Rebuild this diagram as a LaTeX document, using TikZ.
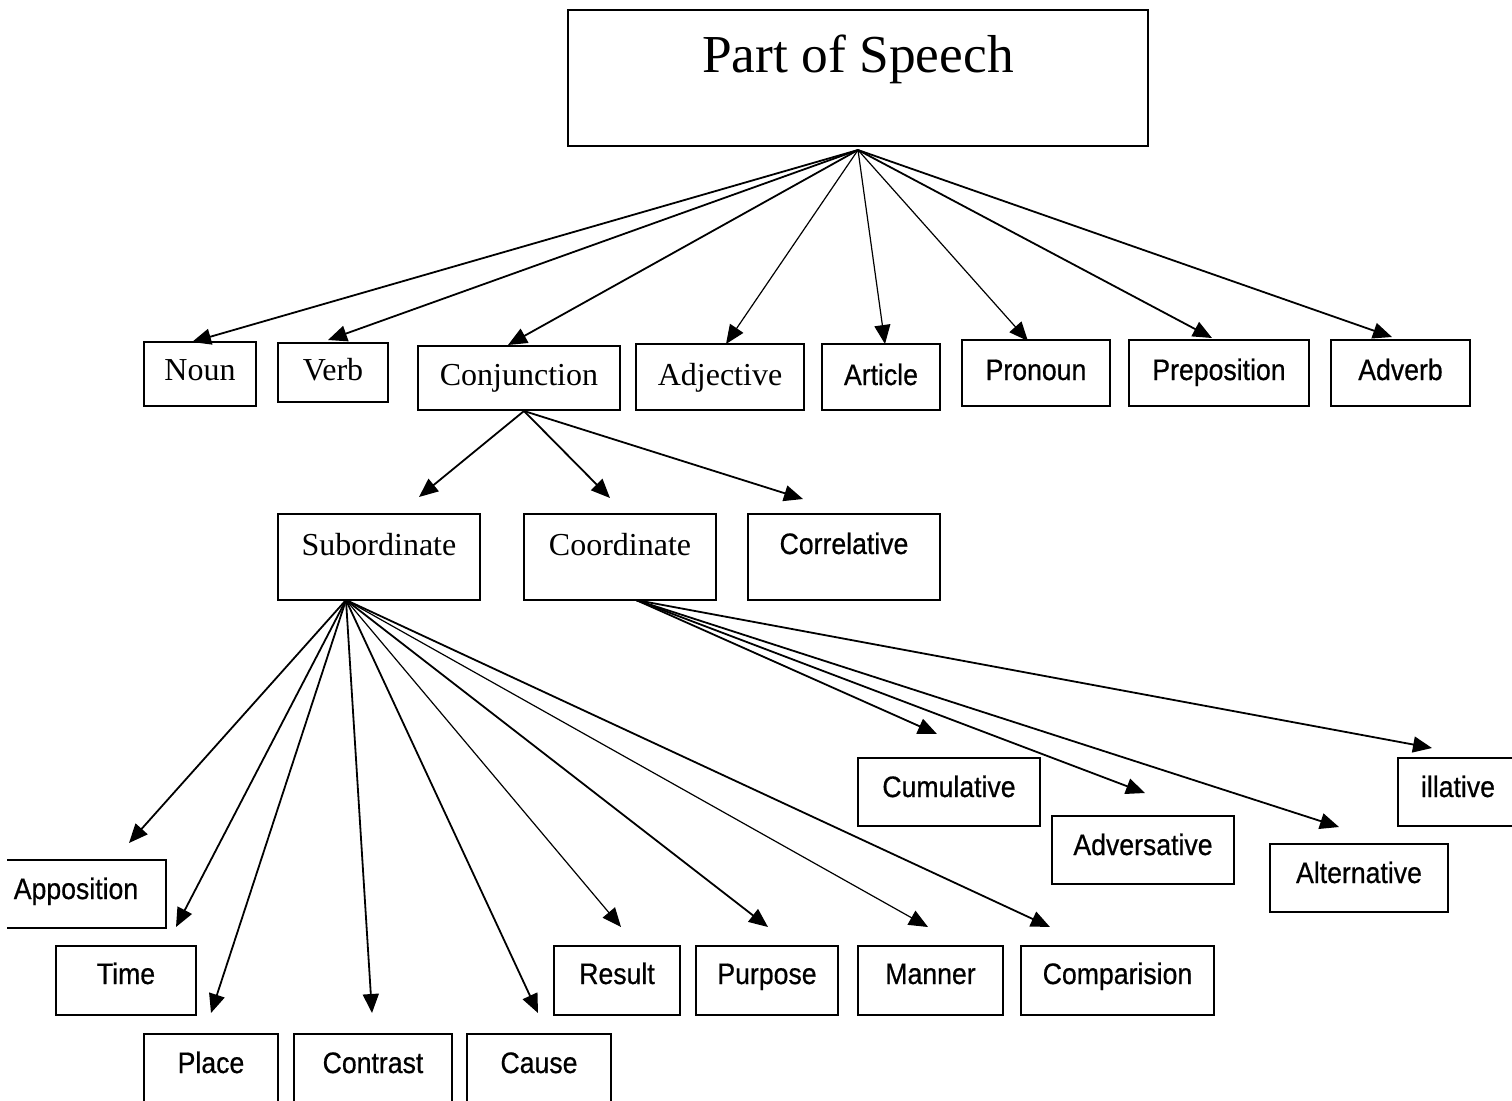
\documentclass[tikz,border=0pt]{standalone}
\usepackage{fontspec}
\setmainfont{Liberation Serif}
\newfontfamily\armfont[FakeStretch=0.9,FakeBold=0.6]{Liberation Sans}
\usetikzlibrary{arrows.meta}

\begin{document}
\begin{tikzpicture}[x=0.5pt,y=-0.5pt,
  box/.style n args={3}{draw,line width=0.9pt,inner sep=0pt,minimum width=#1,text height=#2,text depth=#3},
  rm/.style={font=\fontsize{16}{19}\selectfont},
  sf/.style={font=\armfont\fontsize{14.8}{18}\selectfont},
  arr/.style={line width=0.9pt,-{Triangle[length=9.5pt,width=8pt]}},
  thinarr/.style={arr,line width=0.6pt}]
\useasboundingbox (0,0) rectangle (1512,1100);
\clip (7,0) rectangle (1512,1100);

% top
\node [box={290pt}{31pt}{37pt},font=\fontsize{26.7}{32}\selectfont] (ps) at (858,78) {Part of Speech};

% parts of speech
\node [box={56pt}{19pt}{13pt},rm] (noun) at (200,374) {Noun};
\node [box={55pt}{18.5pt}{11pt},rm] (verb) at (333,372.5) {Verb};
\node [box={101pt}{19.5pt}{12.5pt},rm] (conj) at (519,378) {Conjunction};
\node [box={84pt}{20.5pt}{12.5pt},rm] (adj) at (720,377) {Adjective};
\node [box={59pt}{20.5pt}{12.5pt},sf] (art) at (881,377) {Article};
\node [box={74pt}{20pt}{13pt},sf] (pron) at (1036,373) {Pronoun};
\node [box={90pt}{20pt}{13pt},sf] (prep) at (1219,373) {Preposition};
\node [box={69.5pt}{20pt}{13pt},sf] (adv) at (1400.5,373) {Adverb};

% kinds of conjunction
\node [box={101pt}{20.5pt}{22.5pt},rm] (sub) at (379,557) {Subordinate};
\node [box={96pt}{20.5pt}{22.5pt},rm] (coord) at (620,557) {Coordinate};
\node [box={96pt}{20pt}{23pt},sf] (corr) at (844,557) {Correlative};

% subordinate
\node [box={90pt}{19.5pt}{14.5pt},sf] (appo) at (76,894) {Apposition};
\node [box={70pt}{19pt}{15.5pt},sf] (time) at (126,980.5) {Time};
\node [box={67pt}{19.5pt}{25.5pt},sf] (place) at (211,1079) {Place};
\node [box={79pt}{19.5pt}{25.5pt},sf] (contr) at (373,1079) {Contrast};
\node [box={72pt}{19.5pt}{25.5pt},sf] (cause) at (539,1079) {Cause};
\node [box={63pt}{19pt}{15.5pt},sf] (res) at (617,980.5) {Result};
\node [box={71pt}{19pt}{15.5pt},sf] (purp) at (767,980.5) {Purpose};
\node [box={72.5pt}{19pt}{15.5pt},sf] (mann) at (930.5,980.5) {Manner};
\node [box={96.5pt}{19pt}{15.5pt},sf] (comp) at (1117.5,980.5) {Comparision};

% coordinate
\node [box={91pt}{19.5pt}{14.5pt},sf] (cumu) at (949,792) {Cumulative};
\node [box={91pt}{19.5pt}{14.5pt},sf] (adve) at (1143,850) {Adversative};
\node [box={89pt}{19.5pt}{14.5pt},sf] (alte) at (1359,878) {Alternative};
\node [box={60pt}{19.5pt}{14.5pt},sf] (illa) at (1458,792) {illative};

% arrow ends
\coordinate (ps-out) at (858,150);
\coordinate (conj-out) at (524,411);
\coordinate (sub-out) at (346,600);
\coordinate (coord-out) at (636,600);

\coordinate (noun-in) at (192,342);
\coordinate (verb-in) at (328,340);
\coordinate (conj-in) at (508,345);
\coordinate (adj-in) at (726,344);
\coordinate (art-in) at (885,344);
\coordinate (pron-in) at (1028,341);
\coordinate (prep-in) at (1212,338);
\coordinate (adv-in) at (1392,337);

\coordinate (sub-in) at (419,497);
\coordinate (coord-in) at (610,498);
\coordinate (corr-in) at (803,499);

\coordinate (appo-in) at (129,843);
\coordinate (time-in) at (176,927);
\coordinate (place-in) at (211,1013);
\coordinate (contr-in) at (372,1013);
\coordinate (cause-in) at (538,1013);
\coordinate (res-in) at (621,927);
\coordinate (purp-in) at (768,927);
\coordinate (mann-in) at (928,927);
\coordinate (comp-in) at (1050,927);

\coordinate (cumu-in) at (937,734);
\coordinate (adve-in) at (1145,793);
\coordinate (alte-in) at (1339,827);
\coordinate (illa-in) at (1432,748);

%
\draw [arr] (ps-out) -- (noun-in);
\draw [arr] (ps-out) -- (verb-in);
\draw [arr] (ps-out) -- (conj-in);
\draw [thinarr] (ps-out) -- (adj-in);
\draw [thinarr] (ps-out) -- (art-in);
\draw [thinarr] (ps-out) -- (pron-in);
\draw [arr] (ps-out) -- (prep-in);
\draw [arr] (ps-out) -- (adv-in);

\draw [arr] (conj-out) -- (sub-in);
\draw [arr] (conj-out) -- (coord-in);
\draw [arr] (conj-out) -- (corr-in);

\draw [arr] (sub-out) -- (appo-in);
\draw [arr] (sub-out) -- (time-in);
\draw [arr] (sub-out) -- (place-in);
\draw [arr] (sub-out) -- (contr-in);
\draw [arr] (sub-out) -- (cause-in);
\draw [thinarr] (sub-out) -- (res-in);
\draw [arr] (sub-out) -- (purp-in);
\draw [thinarr] (sub-out) -- (mann-in);
\draw [arr] (sub-out) -- (comp-in);

\draw [arr] (coord-out) -- (cumu-in);
\draw [arr] (coord-out) -- (adve-in);
\draw [arr] (coord-out) -- (alte-in);
\draw [arr] (coord-out) -- (illa-in);
\end{tikzpicture}
\end{document}
